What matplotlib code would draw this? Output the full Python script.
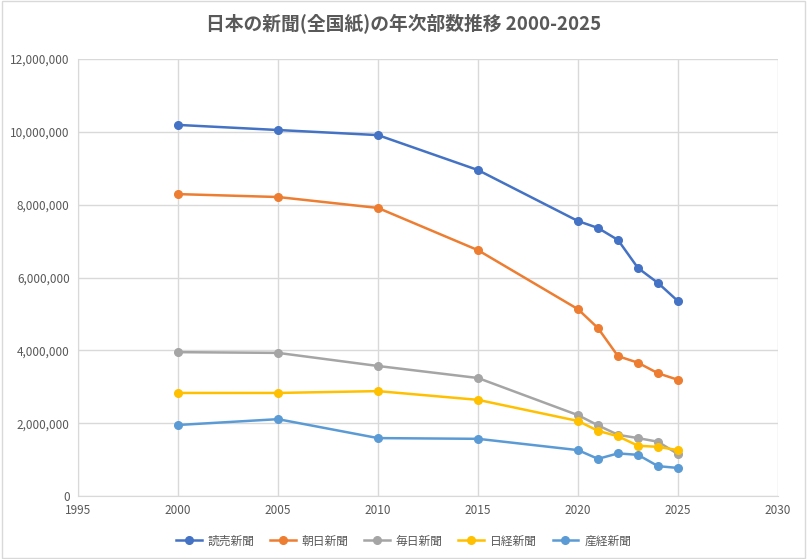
import matplotlib.pyplot as plt
from matplotlib.ticker import FuncFormatter, MultipleLocator

plt.rcParams['font.family'] = ['Noto Sans CJK JP', 'DejaVu Sans']

# data
years = [2000, 2005, 2010, 2015, 2020, 2021, 2022, 2023, 2024, 2025]
yomiuri = [10190000, 10050000, 9910000, 8950000, 7550000, 7360000, 7030000, 6260000, 5850000, 5350000]
asahi = [8290000, 8210000, 7910000, 6750000, 5130000, 4610000, 3840000, 3660000, 3370000, 3190000]
mainichi = [3950000, 3930000, 3570000, 3240000, 2220000, 1940000, 1680000, 1590000, 1490000, 1150000]
nikkei = [2830000, 2830000, 2880000, 2640000, 2060000, 1790000, 1640000, 1380000, 1350000, 1260000]
sankei = [1950000, 2110000, 1590000, 1570000, 1260000, 1020000, 1170000, 1130000, 820000, 770000]

names = ['読売新聞', '朝日新聞', '毎日新聞', '日経新聞', '産経新聞']
series = [yomiuri, asahi, mainichi, nikkei, sankei]
colors = ['#4472C4', '#ED7D31', '#A5A5A5', '#FFC000', '#5B9BD5']

fig = plt.figure(figsize=(8.07, 5.59), dpi=100)
ax = fig.add_axes([78 / 807, 1 - 496 / 559, 700 / 807, 437 / 559])

for name, vals, c in zip(names, series, colors):
    ax.plot(years, vals, color=c, marker='o', markersize=5.5, linewidth=1.8, label=name)

ax.set_xlim(1995, 2030)
ax.set_ylim(0, 12000000)
ax.xaxis.set_major_locator(MultipleLocator(5))
ax.yaxis.set_major_locator(MultipleLocator(2000000))
ax.yaxis.set_major_formatter(FuncFormatter(lambda v, p: f'{int(v):,}'))
ax.grid(color='#D9D9D9', linewidth=1)
ax.set_axisbelow(True)
for s in ['top', 'right']:
    ax.spines[s].set_visible(False)
for s in ['left', 'bottom']:
    ax.spines[s].set_color('#D9D9D9')
ax.tick_params(length=0, labelsize=8.5, colors='#595959', pad=6)

fig.suptitle('日本の新聞(全国紙)の年次部数推移 2000-2025', x=0.5, y=0.975,
             fontsize=13.5, fontweight='bold', color='#595959')

# legend centred on the figure, not on the axes
fig.legend(*ax.get_legend_handles_labels(), loc='upper center',
           bbox_to_anchor=(0.5, 1 - 524 / 559), ncol=5, frameon=False,
           fontsize=8.5, labelcolor='#595959', handlelength=2.2, handletextpad=0.5,
           columnspacing=1.3)

fig.patches.append(plt.Rectangle((0.002, 0.002), 0.996, 0.996, transform=fig.transFigure,
                                 fill=False, edgecolor='#D9D9D9', linewidth=1))

fig.savefig('out.png', dpi=100)
